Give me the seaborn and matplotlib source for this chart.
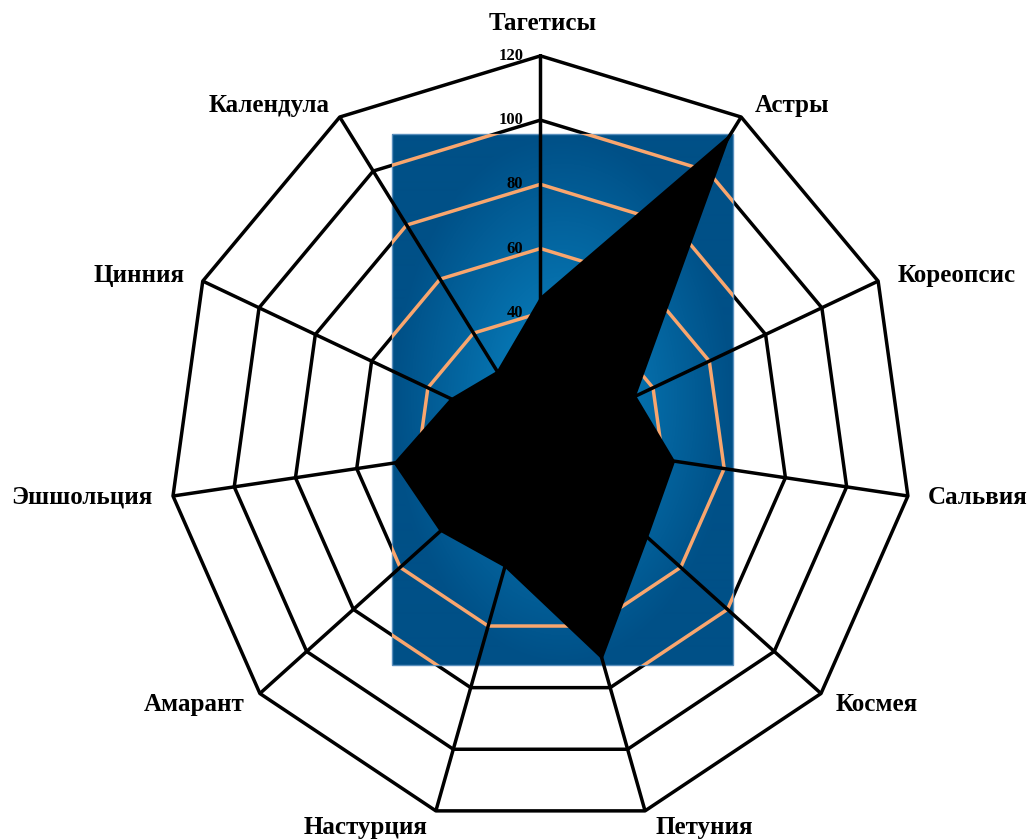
import numpy as np
import matplotlib
matplotlib.use("Agg")
import matplotlib.pyplot as plt
import seaborn as sns
from matplotlib.patches import Rectangle

# ---------------- data ----------------
categories = ["Тагетисы", "Астры", "Кореопсис", "Сальвия", "Космея", "Петуния",
              "Настурция", "Амарант", "Эшшольция", "Цинния", "Календула"]
values = [45, 114, 34, 44, 46, 71, 41, 43, 48, 32, 26]
tick_values = [0, 20, 40, 60, 80, 100, 120]
r_max = 120

# ---------------- style ----------------
sns.set_theme(style="white")
plt.rcParams["font.family"] = ["Liberation Serif", "DejaVu Serif"]

fig = plt.figure(figsize=(10.28, 8.39), dpi=100)
ax = fig.add_axes([0, 0, 1, 1])

n = len(categories)
theta = np.arange(n) * 2 * np.pi / n
sx, sy = np.sin(theta), np.cos(theta)


def loop(v):
    xs = np.append(v * sx, v * sx[0])
    ys = np.append(v * sy, v * sy[0])
    return xs, ys


# black grid rings (visible outside the coloured panel)
for t in tick_values[1:]:
    xs, ys = loop(t)
    sns.lineplot(x=xs, y=ys, sort=False, estimator=None, color="black",
                 lw=2.5, ax=ax, zorder=1)

# gradient panel
px0, px1, pyb, pyt = 0.3818, 0.7130, 0.2075, 0.8397
H, W = 530, 341
u = np.linspace(-1, 1, W)[None, :]
vv = np.linspace(-1, 1, H)[:, None]
d = np.clip(np.sqrt(u ** 2 + (vv * 1.0) ** 2), 0, 1)
c_in = np.array([10, 140, 205]) / 255.0
c_out = np.array([0, 80, 135]) / 255.0
tt = d[..., None] ** 0.9
img = c_in * (1 - tt) + c_out * tt
ax.imshow(img, extent=[px0, px1, pyb, pyt], transform=ax.transAxes,
          aspect="auto", zorder=2, interpolation="bilinear")
panel = Rectangle((px0, pyb), px1 - px0, pyt - pyb, transform=ax.transAxes,
                  facecolor="none", edgecolor="#5a8fbd", lw=1.0, zorder=2.5)
ax.add_patch(panel)
clip_rect = Rectangle((px0, pyb), px1 - px0, pyt - pyb, transform=ax.transAxes,
                      facecolor="none", edgecolor="none")
ax.add_patch(clip_rect)

# orange rings inside the panel
for t in tick_values[1:]:
    xs, ys = loop(t)
    ln, = ax.plot(xs, ys, color="#F9A66E", lw=2.5, zorder=3,
                  solid_joinstyle="miter")
    ln.set_clip_path(clip_rect)

# spokes
for i in range(n):
    ax.plot([0, r_max * sx[i]], [0, r_max * sy[i]], color="black", lw=2.5,
            zorder=4, solid_capstyle="butt")

# radial tick labels
for t in tick_values:
    ax.annotate(str(t), xy=(0, t), xytext=(-17, 0), textcoords="offset pixels",
                ha="right", va="center", fontsize=12, fontweight="bold",
                color="black", zorder=5)

# data polygon
px, py = loop(np.array(values, dtype=float))
ax.fill(px, py, color="black", zorder=6, lw=0)

# category labels
label_layout = [
    ("center", (2, 32)),
    ("left", (14, 12)),
    ("left", (19, 6)),
    ("left", (20, -1)),
    ("left", (15, -11)),
    ("left", (10, -17)),
    ("right", (-8, -17)),
    ("right", (-15, -11)),
    ("right", (-21, -1)),
    ("right", (-18, 6)),
    ("right", (-10, 12)),
]
for i, name in enumerate(categories):
    ha, off = label_layout[i]
    ax.annotate(name, xy=(r_max * sx[i], r_max * sy[i]), xytext=off,
                textcoords="offset pixels", ha=ha, va="center",
                fontsize=18, fontweight="bold", color="black", zorder=7)

ax.set_xlim(-174.7, 157.6)
ax.set_ylim(-123.9, 137.4)
ax.axis("off")

fig.savefig("out.png", dpi=100)
